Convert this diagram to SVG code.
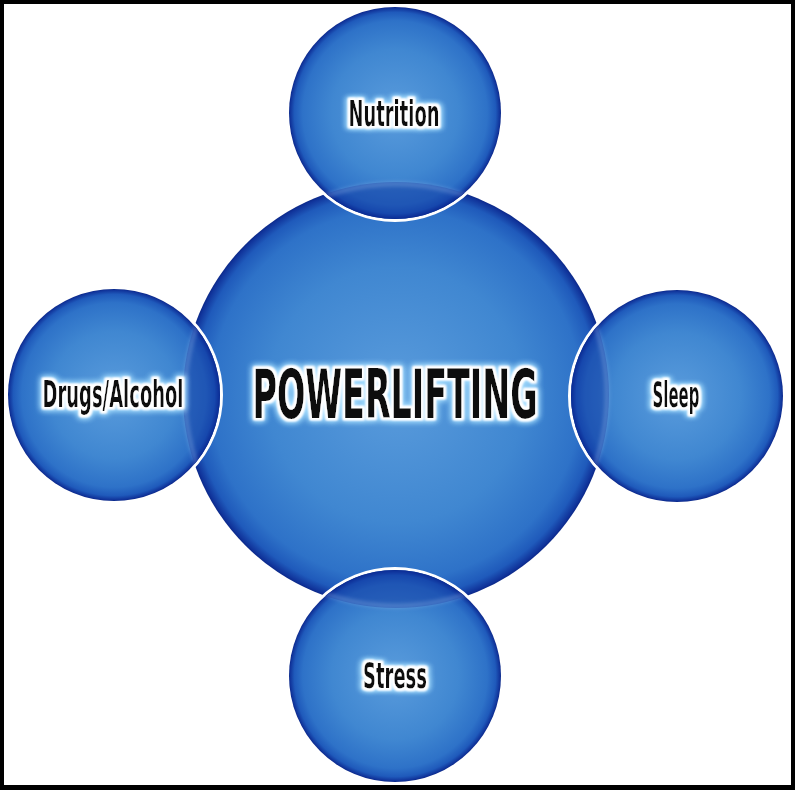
<svg xmlns="http://www.w3.org/2000/svg" width="795" height="790" viewBox="0 0 795 790">
  <defs>
    <style>
      .lbl { font-family: "Liberation Sans Narrow", "DejaVu Sans Condensed", "Liberation Sans", sans-serif; font-weight: bold; fill: #0a0a0a; text-anchor: middle; filter: url(#glow); }
      .sat { fill: url(#ballGrad); }
      .satEdge { fill: none; stroke: #ffffff; stroke-width: 3; }
      .lens { fill: #0a2c98; fill-opacity: 0.4; }
      .lensEdge { fill: none; stroke: #cfe3ff; stroke-width: 3; stroke-opacity: 0.35; filter: url(#soft); }
    </style>
    <radialGradient id="ballGrad" cx="0.5" cy="0.5" r="0.5">
      <stop offset="0" stop-color="#5a9cdc"/>
      <stop offset="0.6" stop-color="#4087d1"/>
      <stop offset="0.87" stop-color="#2e72c8"/>
      <stop offset="0.95" stop-color="#1f5abb"/>
      <stop offset="0.99" stop-color="#10339a"/>
      <stop offset="1" stop-color="#0b2888"/>
    </radialGradient>
    <filter id="glow" x="-20%" y="-40%" width="140%" height="180%">
      <feMorphology in="SourceAlpha" operator="dilate" radius="3 1.8" result="d"/>
      <feGaussianBlur in="d" stdDeviation="3 1.8" result="b1"/>
      <feFlood flood-color="#a8e0ff" result="c1"/>
      <feComposite in="c1" in2="b1" operator="in" result="g1"/>
      <feMorphology in="SourceAlpha" operator="dilate" radius="2 1.2" result="d2"/>
      <feGaussianBlur in="d2" stdDeviation="1 0.6" result="b2"/>
      <feFlood flood-color="#ffffff" result="c2"/>
      <feComposite in="c2" in2="b2" operator="in" result="g2"/>
      <feMerge>
        <feMergeNode in="g1"/>
        <feMergeNode in="g1"/>
        <feMergeNode in="g2"/>
        <feMergeNode in="g2"/>
        <feMergeNode in="SourceGraphic"/>
      </feMerge>
    </filter>
    <filter id="soft" x="-10%" y="-10%" width="120%" height="120%">
      <feGaussianBlur stdDeviation="2"/>
    </filter>
    <clipPath id="clipTop"><circle cx="395" cy="113" r="106"/></clipPath>
    <clipPath id="clipBottom"><circle cx="395" cy="676" r="106"/></clipPath>
    <clipPath id="clipLeft"><circle cx="114" cy="395" r="106"/></clipPath>
    <clipPath id="clipRight"><circle cx="677" cy="396" r="106"/></clipPath>
  </defs>

  <rect x="0" y="0" width="795" height="790" fill="#ffffff"/>

  <g id="node-powerlifting">
    <circle cx="396" cy="395" r="213" fill="url(#ballGrad)"/>
  </g>

  <g id="node-nutrition">
    <circle class="satEdge" cx="395" cy="113" r="107.5"/>
    <circle class="sat" cx="395" cy="113" r="106"/>
    <g clip-path="url(#clipTop)">
      <circle class="lens" cx="396" cy="395" r="213"/>
      <circle class="lensEdge" cx="396" cy="395" r="211"/>
    </g>
    <text class="lbl" transform="translate(394,126) scale(1,1.62)" x="0" y="0" font-size="22" textLength="91" lengthAdjust="spacingAndGlyphs">Nutrition</text>
  </g>

  <g id="node-stress">
    <circle class="satEdge" cx="395" cy="676" r="107.5"/>
    <circle class="sat" cx="395" cy="676" r="106"/>
    <g clip-path="url(#clipBottom)">
      <circle class="lens" cx="396" cy="395" r="213"/>
      <circle class="lensEdge" cx="396" cy="395" r="211"/>
    </g>
    <text class="lbl" transform="translate(395,688) scale(1,1.62)" x="0" y="0" font-size="22" textLength="64" lengthAdjust="spacingAndGlyphs">Stress</text>
  </g>

  <g id="node-drugs-alcohol">
    <circle class="satEdge" cx="114" cy="395" r="107.5"/>
    <circle class="sat" cx="114" cy="395" r="106"/>
    <g clip-path="url(#clipLeft)">
      <circle class="lens" cx="396" cy="395" r="213"/>
      <circle class="lensEdge" cx="396" cy="395" r="211"/>
    </g>
    <text class="lbl" transform="translate(113,407) scale(1,1.65)" x="0" y="0" font-size="22.5" textLength="141" lengthAdjust="spacingAndGlyphs">Drugs/Alcohol</text>
  </g>

  <g id="node-sleep">
    <circle class="satEdge" cx="677" cy="396" r="107.5"/>
    <circle class="sat" cx="677" cy="396" r="106"/>
    <g clip-path="url(#clipRight)">
      <circle class="lens" cx="396" cy="395" r="213"/>
      <circle class="lensEdge" cx="396" cy="395" r="211"/>
    </g>
    <text class="lbl" transform="translate(676,407) scale(1,1.62)" x="0" y="0" font-size="22" textLength="47" lengthAdjust="spacingAndGlyphs">Sleep</text>
  </g>

  <g id="label-powerlifting">
    <text class="lbl" transform="translate(395,418) scale(1,1.71)" x="0" y="0" font-size="40" textLength="285" lengthAdjust="spacingAndGlyphs">POWERLIFTING</text>
  </g>

  <g id="connectors"></g>

  <g id="frame" fill="#000000">
    <rect x="0" y="0" width="795" height="4"/>
    <rect x="0" y="0" width="4" height="790"/>
    <rect x="791" y="0" width="4" height="790"/>
    <rect x="0" y="785" width="795" height="5"/>
  </g>
</svg>
